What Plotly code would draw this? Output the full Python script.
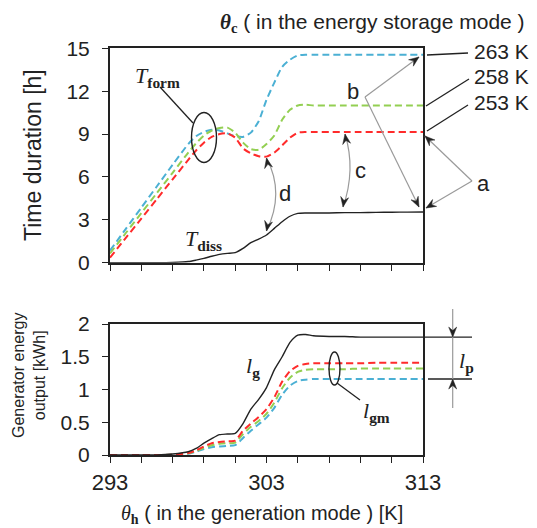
import plotly.graph_objects as go

# ---------------- data ----------------
theta_h = [293, 294, 295, 296, 297, 298, 298.5, 299, 299.5, 300, 300.5, 301, 301.5, 302,
           302.5, 303, 303.5, 304, 304.5, 305, 305.5, 306, 307, 308, 309, 310, 311, 312, 313]

t_form_263 = [0.85, 2.35, 3.85, 5.35, 6.85, 8.3, 8.85, 9.15, 9.3, 9.25, 9.05, 8.85, 8.8, 9.1,
              9.9, 11.4, 12.6, 13.7, 14.2, 14.5, 14.55, 14.55, 14.55, 14.55, 14.55, 14.55, 14.55, 14.55, 14.55]
t_form_258 = [0.65, 2.06, 3.47, 4.88, 6.29, 7.7, 8.35, 8.9, 9.25, 9.42, 9.45, 9.1, 8.4, 7.95,
              7.9, 8.3, 8.9, 10.0, 10.7, 11.0, 11.05, 11.0, 11.0, 11.0, 11.0, 11.0, 11.0, 11.0, 11.0]
t_form_253 = [0.35, 1.72, 3.09, 4.46, 5.83, 7.2, 7.85, 8.4, 8.8, 9.0, 9.05, 8.75, 8.0, 7.65,
              7.45, 7.42, 7.7, 8.2, 8.75, 9.1, 9.15, 9.15, 9.15, 9.15, 9.15, 9.15, 9.15, 9.15, 9.15]
t_diss = [0, 0, 0, 0, 0.02, 0.08, 0.18, 0.3, 0.45, 0.58, 0.65, 0.7, 1.0, 1.4,
          1.65, 1.94, 2.4, 2.87, 3.25, 3.45, 3.48, 3.48, 3.48, 3.5, 3.5, 3.52, 3.53, 3.54, 3.55]

l_g = [0, 0, 0, 0, 0.015, 0.05, 0.1, 0.18, 0.25, 0.31, 0.32, 0.33, 0.48, 0.7,
       0.85, 1.03, 1.3, 1.5, 1.72, 1.83, 1.84, 1.82, 1.81, 1.81, 1.8, 1.8, 1.8, 1.8, 1.8]
l_gm_253 = [0, 0, 0, 0, 0.005, 0.03, 0.07, 0.13, 0.18, 0.2, 0.21, 0.22, 0.37, 0.48,
            0.58, 0.7, 0.88, 1.12, 1.28, 1.36, 1.39, 1.4, 1.4, 1.4, 1.4, 1.41, 1.41, 1.41, 1.41]
l_gm_258 = [0, 0, 0, 0, 0.004, 0.025, 0.06, 0.11, 0.15, 0.17, 0.18, 0.19, 0.32, 0.43,
            0.52, 0.63, 0.8, 1.02, 1.18, 1.27, 1.3, 1.31, 1.31, 1.31, 1.32, 1.32, 1.32, 1.32, 1.32]
l_gm_263 = [0, 0, 0, 0, 0.003, 0.02, 0.05, 0.09, 0.12, 0.13, 0.14, 0.15, 0.26, 0.37,
            0.47, 0.57, 0.72, 0.92, 1.06, 1.13, 1.15, 1.16, 1.16, 1.16, 1.16, 1.16, 1.16, 1.16, 1.16]

x_labelled = [293, 303, 313]
x_ticktext = ["293", "303", "313"]
y1_ticks = [0, 3, 6, 9, 12, 15]
y2_ticks = [0, 0.5, 1, 1.5, 2]
y2_ticktext = ["0", "0.5", "1", "1.5", "2"]
series_labels = ["263 K", "258 K", "253 K"]

# ---------------- style ----------------
OFF = 8                      # page body margin
FW, FH = 537 - OFF, 528 - OFF
BLUE, GREEN, RED = "#4bb0d4", "#93cf52", "#ff2b2b"
INK = "#222222"
GRAY = "#9a9a9a"
SANS = "Liberation Sans"
SERIF = "Liberation Serif"
DASH = "7px,4px"


def px(x):
    return (x - OFF) / FW


def py(y):
    return 1 - (y - OFF) / FH


fig = go.Figure()

def add(x, y, color, dash, xa, ya, width=2):
    fig.add_trace(go.Scatter(x=x, y=y, mode="lines", xaxis=xa, yaxis=ya,
                             line=dict(color=color, width=width, dash=dash,
                                       shape="spline", smoothing=0.6),
                             showlegend=False, hoverinfo="skip"))

add(theta_h, t_form_263, BLUE, DASH, "x", "y")
add(theta_h, t_form_258, GREEN, DASH, "x", "y")
add(theta_h, t_form_253, RED, DASH, "x", "y")
add(theta_h, t_diss, INK, "solid", "x", "y", 1.4)

add(theta_h, l_gm_263, BLUE, DASH, "x2", "y2")
add(theta_h, l_gm_258, GREEN, DASH, "x2", "y2")
add(theta_h, l_gm_253, RED, DASH, "x2", "y2")
add(theta_h, l_g, INK, "solid", "x2", "y2", 1.4)

axis_common = dict(showline=True, mirror=True, linecolor=INK, linewidth=2,
                   ticks="outside", ticklen=6, tickwidth=1.4, tickcolor=INK,
                   showgrid=False, zeroline=False, automargin=False,
                   tickfont=dict(family=SANS, size=21, color=INK))
minor_x = dict(tick0=293, dtick=2, ticks="outside", ticklen=6, tickwidth=1.4,
               tickcolor=INK, showgrid=False)

fig.update_layout(
    template="none",
    width=FW, height=FH, margin=dict(l=0, r=0, t=0, b=0, pad=0, autoexpand=False),
    paper_bgcolor="white", plot_bgcolor="white",
    xaxis=dict(domain=[px(110), px(423)], range=[293, 313], anchor="y",
               tickvals=x_labelled, showticklabels=False, minor=minor_x, **axis_common),
    yaxis=dict(domain=[py(262.7), py(48.3)], range=[0, 15], anchor="x",
               tickvals=y1_ticks, ticklabelstandoff=8, **axis_common),
    xaxis2=dict(domain=[px(110), px(423)], range=[293, 313], anchor="y2",
                tickvals=x_labelled, ticktext=x_ticktext, ticklabelstandoff=1, minor=minor_x,
                **{**axis_common, "tickfont": dict(family=SANS, size=22, color=INK)}),
    yaxis2=dict(domain=[py(455), py(324)], range=[0, 2], anchor="x2",
                tickvals=y2_ticks, ticktext=y2_ticktext,
                ticklabelstandoff=8, **axis_common),
)

ann = []
shapes = []


def text(x, y, s, size=22, family=SANS, xanchor="center", angle=0, color=INK):
    ann.append(dict(x=px(x), y=py(y), xref="paper", yref="paper", text=s,
                    showarrow=False, xanchor=xanchor, yanchor="middle",
                    textangle=angle, font=dict(family=family, size=size, color=color)))


def line(x0, y0, x1, y1, color=INK, width=1.3):
    shapes.append(dict(type="line", xref="paper", yref="paper",
                       x0=px(x0), y0=py(y0), x1=px(x1), y1=py(y1),
                       line=dict(color=color, width=width)))


def head_pts(tx, ty, fx, fy, L=10, w=4):
    dx, dy = fx - tx, fy - ty
    n = (dx * dx + dy * dy) ** 0.5
    ux, uy = dx / n, dy / n
    nx, ny = -uy, ux
    return [(tx, ty),
            (tx + ux * L + nx * w, ty + uy * L + ny * w),
            (tx + ux * L * 0.65, ty + uy * L * 0.65),
            (tx + ux * L - nx * w, ty + uy * L - ny * w)]


def head(tx, ty, fx, fy):
    # filled arrowhead with its tip at (tx,ty), pointing away from (fx,fy)
    pts = head_pts(tx, ty, fx, fy)
    path = "M " + " L ".join(f"{px(a)},{py(b)}" for a, b in pts) + " Z"
    shapes.append(dict(type="path", xref="paper", yref="paper", path=path,
                       fillcolor=INK, line=dict(color=INK, width=0.5)))


def head_y2(x, v, up):
    # vertical arrowhead on the lower panel, tip at data value v
    unit = (y2_ticks[-1] - y2_ticks[0]) / (455 - 324)  # data units per pixel
    s = -1 if up else 1
    L, w = 10, 4
    pts = [(px(x), v), (px(x - w), v + s * L * unit), (px(x), v + s * 0.65 * L * unit),
           (px(x + w), v + s * L * unit)]
    path = "M " + " L ".join(f"{a},{b}" for a, b in pts) + " Z"
    shapes.append(dict(type="path", xref="paper", yref="y2", path=path,
                       fillcolor=INK, line=dict(color=INK, width=0.5)))


def ellipse(cx, cy, rx, ry):
    shapes.append(dict(type="circle", xref="paper", yref="paper",
                       x0=px(cx - rx), x1=px(cx + rx), y0=py(cy + ry), y1=py(cy - ry),
                       line=dict(color=INK, width=1.4)))


def curve(x0, y0, cx, cy, x1, y1):
    path = f"M {px(x0)},{py(y0)} Q {px(cx)},{py(cy)} {px(x1)},{py(y1)}"
    shapes.append(dict(type="path", xref="paper", yref="paper", path=path,
                       line=dict(color=GRAY, width=1.2)))


# titles
text(527, 23, "<span style='font-family:Liberation Serif'><i><b>θ</b></i><sub><b>c</b></sub></span>"
     " ( in the energy storage mode )", size=21, xanchor="right")
text(33, 155, "Time duration [h]", size=23, angle=-90)
text(29, 376, "Generator energy<br>output [kWh]", size=16, angle=-90)
text(262, 514, "<span style='font-family:Liberation Serif'><i>θ</i><sub><b>h</b></sub></span>"
     " ( in the generation mode ) [K]", size=20)

# series labels on the right
text(472, 51, series_labels[0], size=21, xanchor="left")
text(472, 77, series_labels[1], size=21, xanchor="left")
text(472, 102, series_labels[2], size=21, xanchor="left")
line(468, 53, 427, 55)
line(469, 79, 426, 106)
line(468, 105, 427, 131)

# a / b labels and arrows
text(483, 183, "a")
line(472, 181, 425, 136, GRAY, 1.2)
line(472, 181, 426, 208, GRAY, 1.2)
head(425, 136, 472, 181)
head(426, 208, 472, 181)

text(353, 91, "b")
line(365, 97, 419, 57, GRAY, 1.2)
line(365, 97, 419, 207, GRAY, 1.2)
head(419, 57, 365, 97)
head(419, 207, 365, 97)

# c / d double arrows
curve(345, 134, 356, 170, 343, 207)
head(345, 134, 347, 146)
head(343, 207, 345, 195)
text(360, 170, "c")

curve(266.5, 158, 285, 193, 266.5, 231)
head(266.5, 158, 269, 170)
head(266.5, 231, 269, 219)
text(285, 193, "d")

# T_form / T_diss
text(157, 77, "<i>T</i><sub><b>form</b></sub>", size=22, family=SERIF)
line(160, 87, 193, 123)
ellipse(204, 137.5, 12.5, 25)
text(203, 240, "<i>T</i><sub><b>diss</b></sub>", size=22, family=SERIF)

# bottom panel labels
text(253, 367, "<i>l</i><sub><b>g</b></sub>", size=22, family=SERIF)
ellipse(334.5, 368.5, 5.5, 16.5)
line(337, 383, 360, 400)
text(376, 412, "<i>l</i><sub><b>gm</b></sub>", size=22, family=SERIF)

# l_p marker
shapes.append(dict(type="line", xref="paper", yref="y2", x0=px(423), x1=px(472),
                   y0=l_g[-1], y1=l_g[-1], line=dict(color=INK, width=1.3)))
shapes.append(dict(type="line", xref="paper", yref="y2", x0=px(428), x1=px(472),
                   y0=l_gm_263[-1], y1=l_gm_263[-1], line=dict(color=INK, width=1.3)))
line(452.7, 309, 452.7, 408, GRAY, 1.2)
head_y2(452.7, l_g[-1], up=False)
head_y2(452.7, l_gm_263[-1], up=True)
text(466, 362, "<i>l</i><sub><b>p</b></sub>", size=22, family=SERIF)

fig.update_layout(annotations=ann, shapes=shapes)
fig.write_html("out.html")
